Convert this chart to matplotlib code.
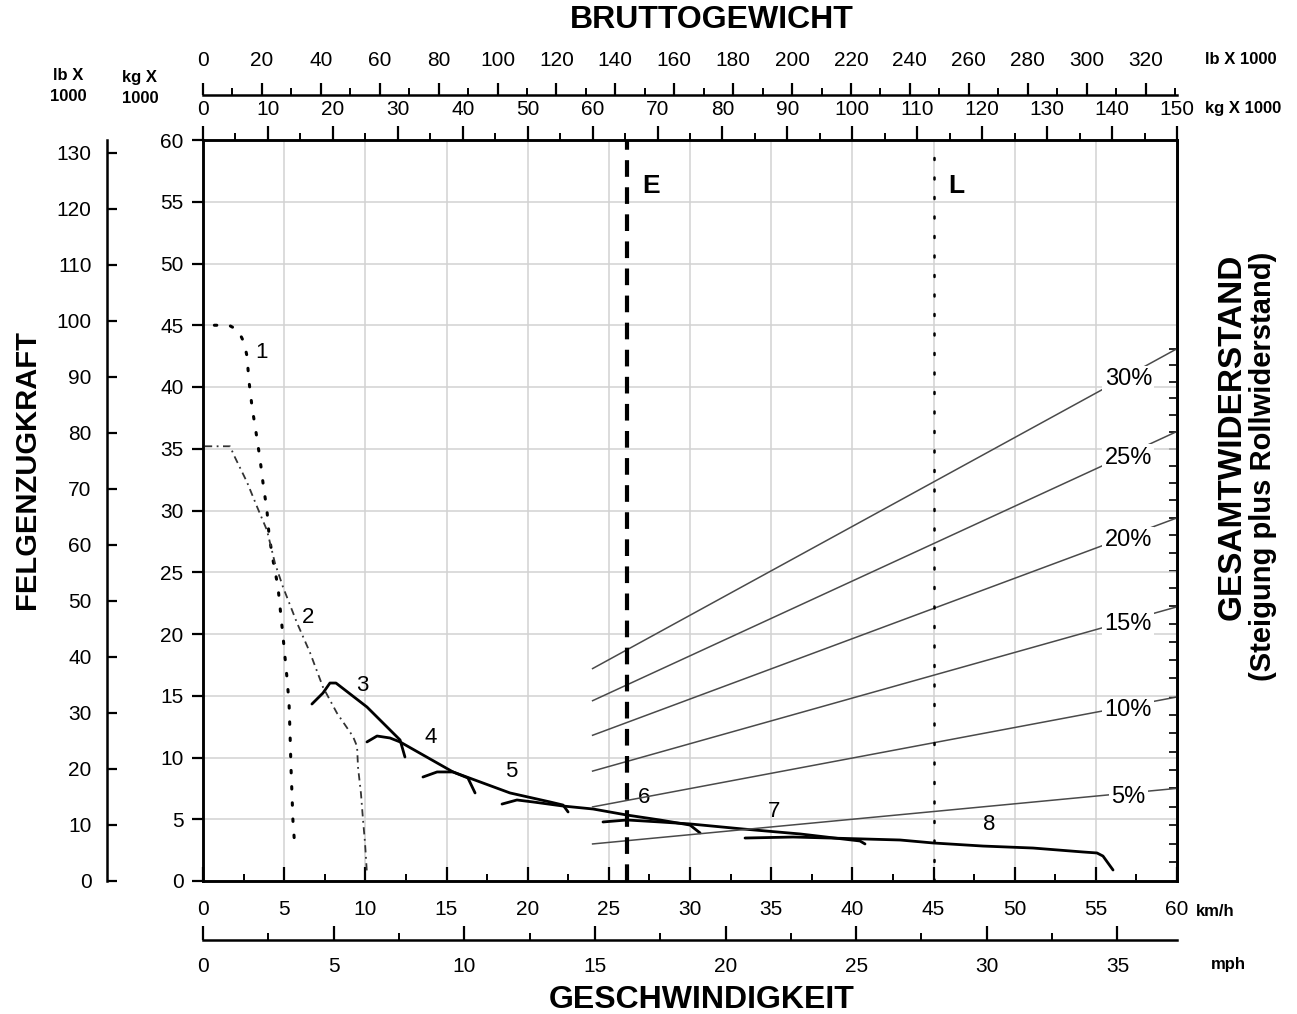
import numpy as np
import matplotlib
matplotlib.use("Agg")
import matplotlib.pyplot as plt
from matplotlib.ticker import MultipleLocator, FixedLocator

plt.rcParams['font.family'] = ['Liberation Sans', 'DejaVu Sans']

# Felgenzugkraft-Kurven (km/h, kg x 1000)
g1_v = [0.7, 1.6, 2.16, 2.53, 2.71, 2.83, 3.02, 3.27, 3.51, 3.70, 3.94, 4.07, 4.31,
        4.62, 4.93, 5.17, 5.30, 5.36, 5.42, 5.48, 5.54, 5.67]
g1_f = [45.0, 45.0, 44.6, 43.6, 42.5, 40.5, 38.4, 36.3, 34.2, 32.2, 30.0, 28.0, 26.0,
        23.8, 19.8, 16.5, 14.4, 12.0, 9.2, 7.1, 4.9, 2.5]
g2_v = [0.12, 1.66, 1.97, 2.71, 3.33, 3.94, 4.44, 4.93, 5.79, 6.59, 7.39, 8.25, 9.24,
        9.49, 9.55, 9.73, 9.86, 9.98, 10.10]
g2_f = [35.2, 35.2, 34.3, 32.3, 30.3, 28.4, 25.7, 23.8, 20.9, 18.5, 15.7, 13.6, 11.7,
        10.9, 9.2, 7.1, 4.9, 3.1, 0.6]
g3_v = [6.71, 7.39, 7.82, 8.19, 10.10, 12.14, 12.44]
g3_f = [14.33, 15.22, 16.03, 16.03, 14.09, 11.42, 10.04]
g4_v = [10.10, 10.72, 11.52, 12.14, 15.40, 16.32, 16.76]
g4_f = [11.26, 11.74, 11.58, 11.26, 8.83, 8.34, 7.13]
g5_v = [13.55, 14.42, 15.40, 18.91, 21.38, 22.18, 22.49]
g5_f = [8.42, 8.83, 8.83, 7.13, 6.40, 6.15, 5.59]
g6_v = [18.42, 19.34, 20.33, 22.18, 24.03, 26.12, 28.15, 30.00, 30.62]
g6_f = [6.23, 6.56, 6.40, 6.07, 5.83, 5.34, 4.94, 4.53, 3.89]
g7_v = [24.64, 26.12, 28.15, 30.00, 33.27, 36.78, 40.47, 40.78]
g7_f = [4.78, 4.94, 4.78, 4.62, 4.21, 3.81, 3.24, 3.00]
g8_v = [33.39, 36.35, 38.62, 42.94, 44.97, 48.05, 51.13, 54.21, 55.07, 55.44, 56.06]
g8_f = [3.48, 3.56, 3.48, 3.32, 3.08, 2.83, 2.67, 2.35, 2.27, 2.02, 0.89]

gang_labels = ['1', '2', '3', '4', '5', '6', '7', '8']
gang_label_v = [3.6, 6.47, 9.8, 14.0, 19.0, 27.2, 35.2, 48.4]
gang_label_f = [42.8, 21.3, 15.8, 11.6, 8.9, 6.8, 5.6, 4.6]

# Gesamtwiderstand: Linien von 60 t bis 150 t Bruttogewicht
steigungen = ['30%', '25%', '20%', '15%', '10%', '5%']
widerstand_w = [60, 150]
widerstand_60 = [17.2, 14.6, 11.8, 8.9, 6.0, 3.0]
widerstand_150 = [43.1, 36.4, 29.4, 22.2, 14.9, 7.5]

leer_gewicht = 65.3      # E
beladen_gewicht = 112.5  # L

W, H = 1297, 1014
fig = plt.figure(figsize=(W / 100, H / 100), dpi=100)
ax = fig.add_axes([203 / W, (H - 881) / H, 974 / W, 741 / H])

ax.set_xlim(0, 60)
ax.set_ylim(0, 60)
ax.xaxis.set_major_locator(MultipleLocator(5))
ax.xaxis.set_minor_locator(MultipleLocator(2.5))
ax.yaxis.set_major_locator(MultipleLocator(5))
ax.grid(True, which='major', color='#d2d2d2', lw=1.1, zorder=0)
ax.set_axisbelow(True)
ax.xaxis.set_ticks_position('bottom')
ax.yaxis.set_ticks_position('left')
ax.tick_params(axis='x', which='major', direction='in', length=10, width=1.6,
               pad=14, labelsize=15)
ax.tick_params(axis='x', which='minor', direction='in', length=5, width=1.4)
ax.tick_params(axis='y', direction='out', length=8, width=1.6, pad=6, labelsize=15)
for s in ax.spines.values():
    s.set_linewidth(1.8)

# Kurven
dot = dict(color='black', lw=2.2, ls=(0, (0.8, 4.5)), dash_capstyle='round')
ax.plot(g1_v, g1_f, **dot)
ax.plot(g2_v, g2_f, color='#333333', lw=1.3, ls=(0, (4, 2.5, 1, 2.5)))
for v, f in [(g3_v, g3_f), (g4_v, g4_f), (g5_v, g5_f), (g6_v, g6_f),
             (g7_v, g7_f), (g8_v, g8_f)]:
    ax.plot(v, f, color='black', lw=2.0, solid_capstyle='round')
for t, v, f in zip(gang_labels, gang_label_v, gang_label_f):
    ax.text(v, f, t, fontsize=16, ha='center', va='center')

# Gewichtsachse oben
ax2 = ax.twiny()
ax2.set_xlim(0, 150)
ax2.xaxis.set_major_locator(MultipleLocator(10))
ax2.xaxis.set_minor_locator(MultipleLocator(5))
ax2.tick_params(axis='x', which='major', direction='out', length=10, width=1.6,
                pad=5, labelsize=15)
ax2.tick_params(axis='x', which='minor', direction='out', length=5, width=1.4)
for s in ax2.spines.values():
    s.set_linewidth(1.8)

for name, f60, f150 in zip(steigungen, widerstand_60, widerstand_150):
    ax2.plot(widerstand_w, [f60, f150], color='#4a4a4a', lw=1.1, zorder=2)
    xl = 142.5
    yl = np.interp(xl, widerstand_w, [f60, f150]) - 0.3
    ax2.text(xl, yl, name, fontsize=17, ha='center', va='center', zorder=3,
             bbox=dict(facecolor='white', edgecolor='none', pad=1.5))

ax2.axvline(leer_gewicht, color='black', lw=3, ls=(0, (4, 2.5)), zorder=4)
ax2.axvline(beladen_gewicht, color='black', lw=1.8, ls=(0, (0.8, 7)),
            dash_capstyle='round', zorder=4)
ax2.text(leer_gewicht + 2.3, 56.3, 'E', fontsize=19, fontweight='bold', va='center')
ax2.text(beladen_gewicht + 2.3, 56.3, 'L', fontsize=19, fontweight='bold', va='center')

kg2lb = lambda x: x * 2.20462
lb2kg = lambda x: x / 2.20462
lb_top = ax2.secondary_xaxis(1 + 45 / 741, functions=(kg2lb, lb2kg))
lb_top.xaxis.set_major_locator(FixedLocator(np.arange(0, 321, 20)))
lb_top.xaxis.set_minor_locator(FixedLocator(np.arange(10, 331, 20)))
lb_top.tick_params(axis='x', which='major', direction='out', length=9, width=1.6,
                   pad=9, labelsize=15)
lb_top.tick_params(axis='x', which='minor', direction='out', length=5, width=1.4)
lb_top.spines['top'].set_linewidth(1.8)

# mph-Achse unten
kmh2mph = lambda x: x / 1.609344
mph2kmh = lambda x: x * 1.609344
mph = ax.secondary_xaxis(-59 / 741, functions=(kmh2mph, mph2kmh))
mph.xaxis.set_major_locator(FixedLocator(np.arange(0, 36, 5)))
mph.xaxis.set_minor_locator(FixedLocator(np.arange(2.5, 36, 5)))
mph.tick_params(axis='x', which='major', direction='in', length=10, width=1.6,
                pad=12, labelsize=15)
mph.tick_params(axis='x', which='minor', direction='in', length=5, width=1.4)
mph.spines['bottom'].set_linewidth(1.8)

# lb-Achse links aussen
lb_left = ax.secondary_yaxis(-96 / 974, functions=(kg2lb, lb2kg))
lb_left.yaxis.set_major_locator(FixedLocator(np.arange(0, 131, 10)))
lb_left.tick_params(axis='y', direction='in', length=7, width=1.6, pad=11,
                    labelsize=15)
lb_left.spines['left'].set_linewidth(1.8)

# Steigungsachse rechts
def r2g(r):
    return np.tan(np.arcsin(np.clip(np.asarray(r) / 150.0, -0.999, 0.999))) * 100

def g2r(g):
    return 150.0 * np.sin(np.arctan(np.asarray(g) / 100.0))

gr = ax.secondary_yaxis('right', functions=(r2g, g2r))
gr.yaxis.set_major_locator(FixedLocator(np.arange(1, 31, 1)))
gr.tick_params(axis='y', direction='in', length=6, width=1.2, labelright=False)
gr.spines['right'].set_linewidth(1.8)


def px(x, y):
    return x / W, 1 - y / H


fig.text(*px(712, 20), 'BRUTTOGEWICHT', fontsize=23, fontweight='bold',
         ha='center', va='center')
fig.text(*px(1241, 60), 'lb X 1000', fontsize=12, fontweight='bold',
         ha='center', va='center')
fig.text(*px(1243, 108), 'kg X 1000', fontsize=12, fontweight='bold',
         ha='center', va='center')
fig.text(*px(68, 86), 'lb X\n1000', fontsize=12, fontweight='bold',
         ha='center', va='center', linespacing=1.5)
fig.text(*px(140, 88), 'kg X\n1000', fontsize=12, fontweight='bold',
         ha='center', va='center', linespacing=1.5)
fig.text(*px(27, 470), 'FELGENZUGKRAFT', fontsize=21, fontweight='bold',
         rotation=90, ha='center', va='center')
fig.text(*px(1232, 437), 'GESAMTWIDERSTAND', fontsize=24, fontweight='bold',
         rotation=90, ha='center', va='center')
fig.text(*px(1263, 466), '(Steigung plus Rollwiderstand)', fontsize=21,
         fontweight='bold', rotation=90, ha='center', va='center')
fig.text(*px(1215, 912), 'km/h', fontsize=12, fontweight='bold',
         ha='center', va='center')
fig.text(*px(1228, 965), 'mph', fontsize=12, fontweight='bold',
         ha='center', va='center')
fig.text(*px(702, 1000), 'GESCHWINDIGKEIT', fontsize=23, fontweight='bold',
         ha='center', va='center')

fig.savefig('out.png', dpi=100)
